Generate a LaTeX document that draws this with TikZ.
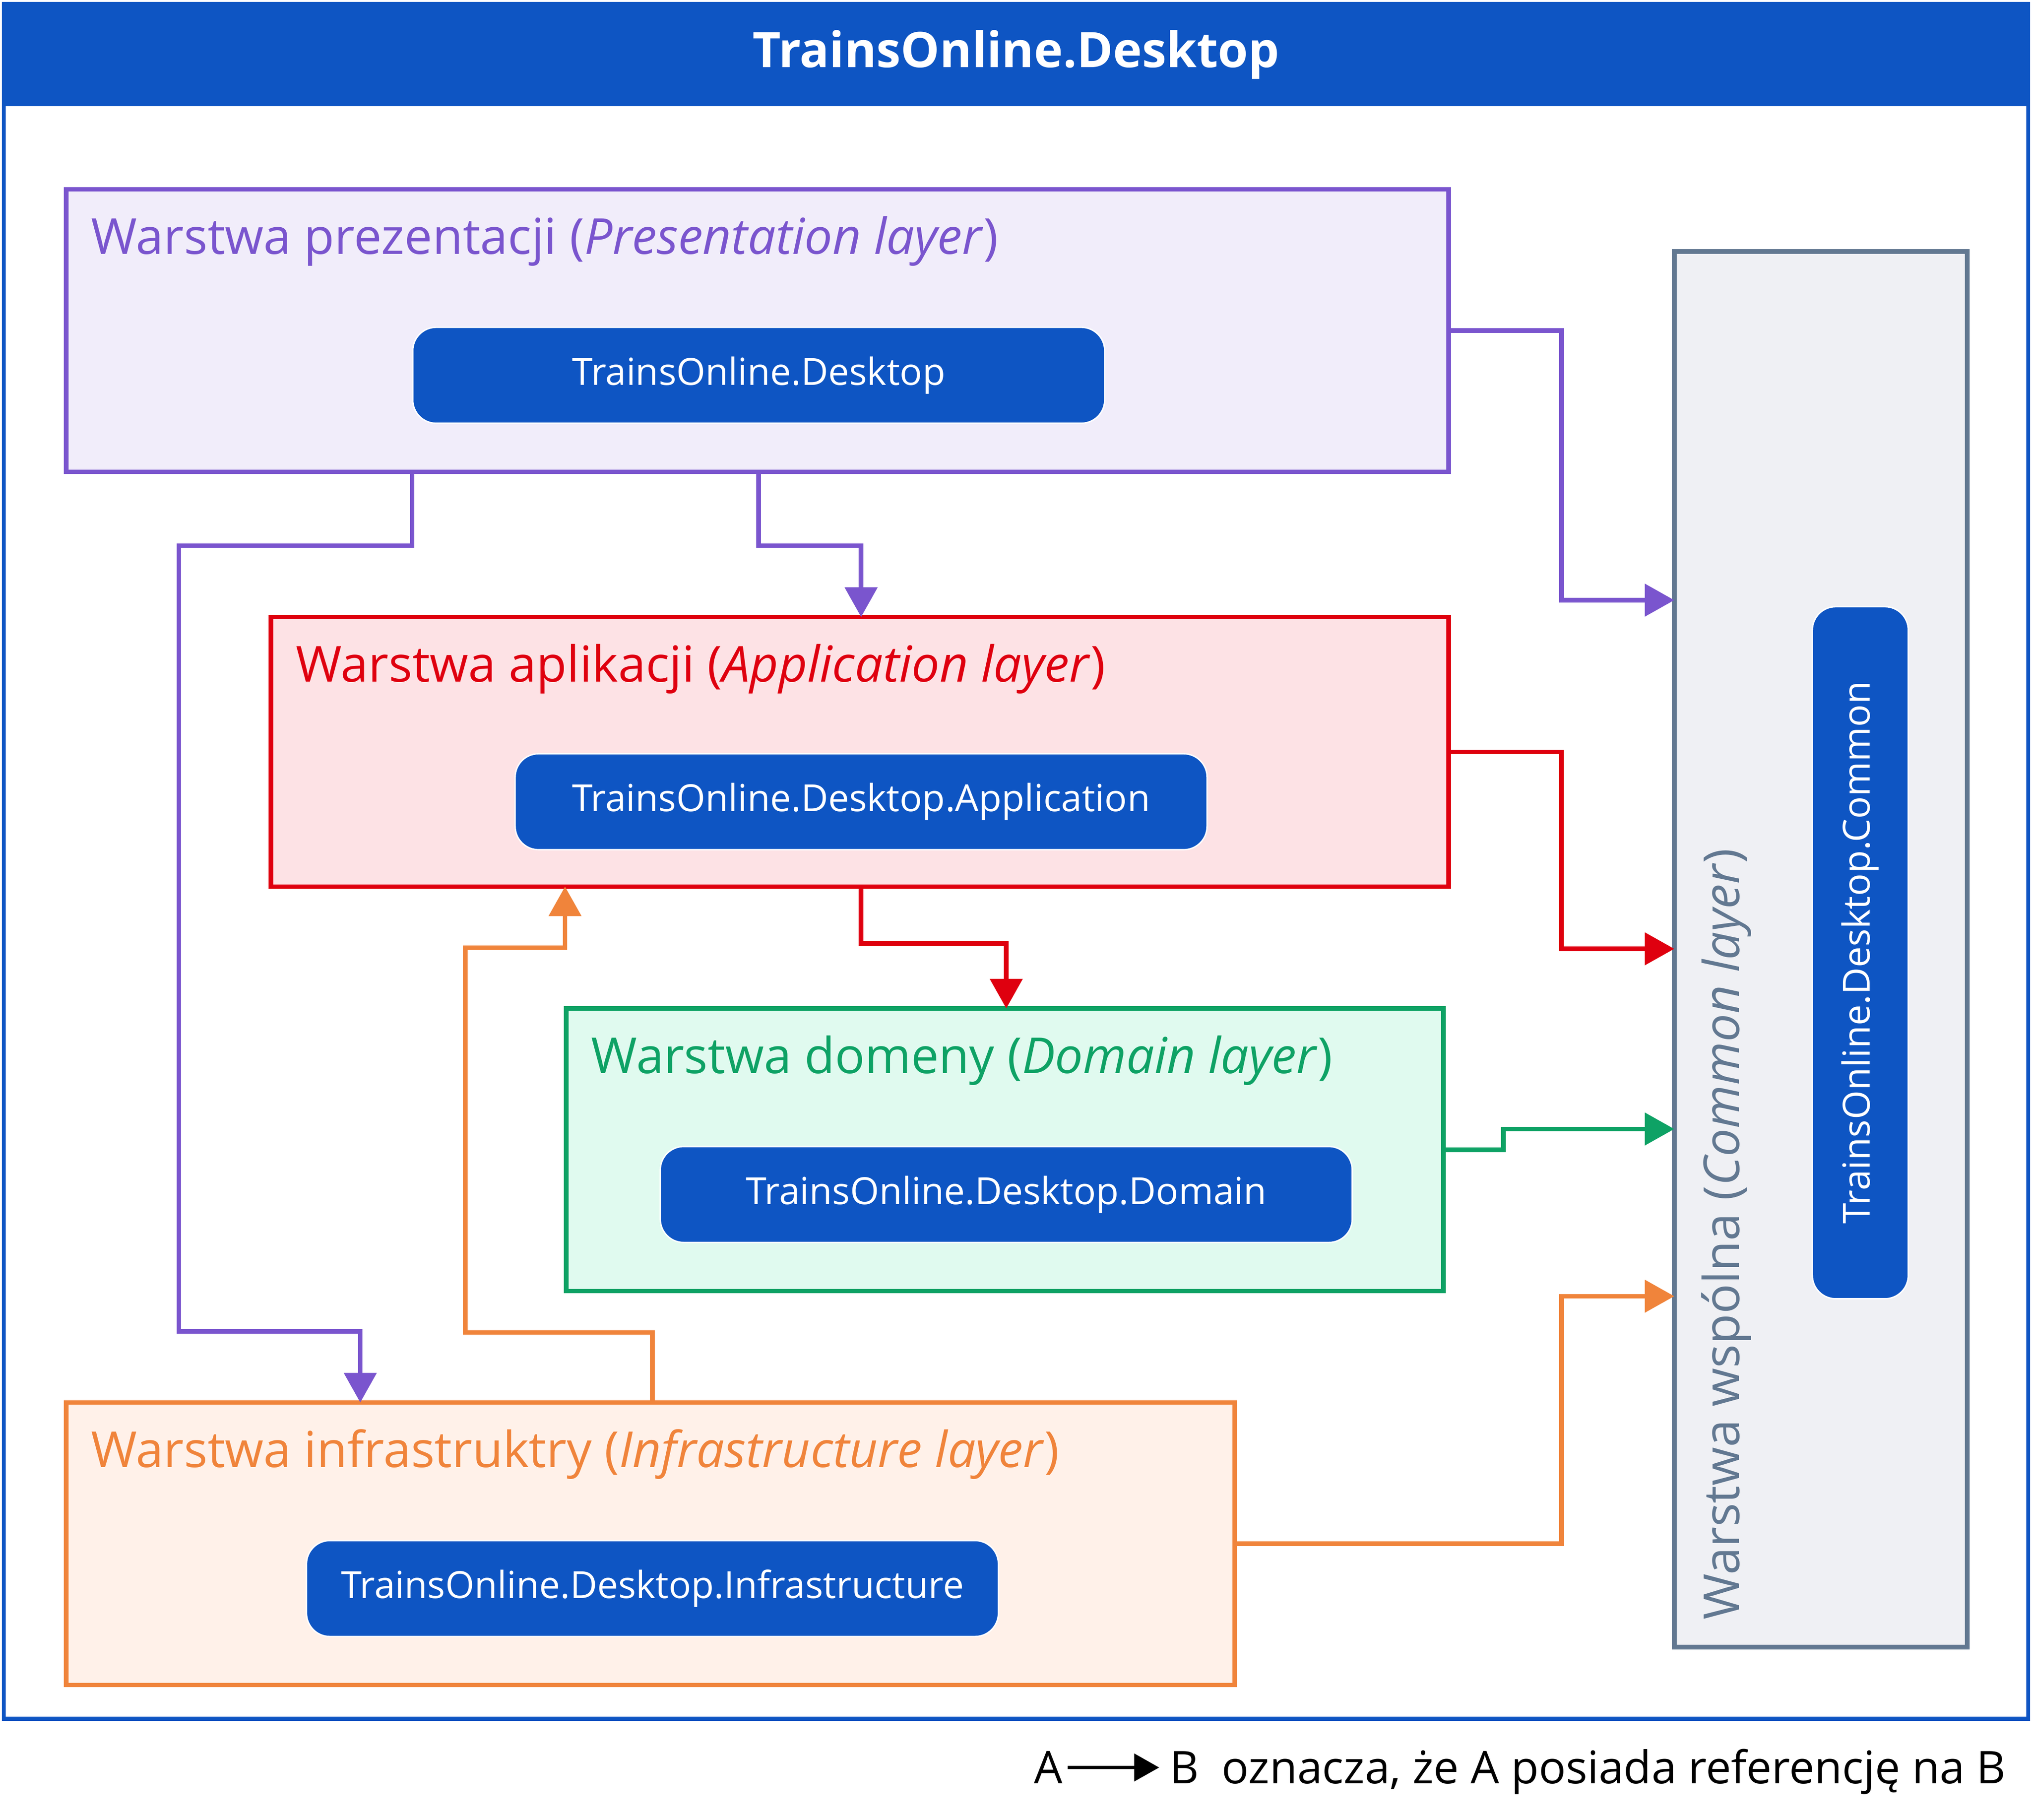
\documentclass[tikz,border=0pt]{standalone}
\usepackage{fontspec}
\setmainfont{Open Sans}
\usetikzlibrary{arrows.meta}
\definecolor{tblue}{HTML}{0E55C3}
\definecolor{ppurple}{HTML}{7A55CE}
\definecolor{ppurplebg}{HTML}{F1EDFA}
\definecolor{ared}{HTML}{DF000F}
\definecolor{aredbg}{HTML}{FDE2E5}
\definecolor{dgreen}{HTML}{0EA265}
\definecolor{dgreenbg}{HTML}{E0FAEF}
\definecolor{iorange}{HTML}{F0843B}
\definecolor{iorangebg}{HTML}{FFF1E9}
\definecolor{cslate}{HTML}{627891}
\definecolor{cslatebg}{HTML}{EFF0F4}

\begin{document}
\begin{tikzpicture}[x=0.02cm, y=-0.02cm,
  layer/.style={draw=#1, fill=#1bg, line width=2pt, anchor=north west, inner sep=0, outer sep=0},
  layertitle/.style={text=#1, anchor=base west, inner sep=0, font=\fontsize{21.8}{26}\selectfont},
  lib/.style={fill=tblue, draw=white, line width=0.6pt, rounded corners=0.36cm, text=white,
    font=\fontsize{16.4}{20}\selectfont, minimum width=10.68cm, minimum height=1.48cm, inner sep=0, anchor=north west},
  ref/.style={draw=#1, line width=2pt, -{Triangle[length=13pt,width=14pt]}}]
  \useasboundingbox (0,0) rectangle (1568,1404);
  \fill[white] (0,0) rectangle (1568,1404);
  \draw[tblue, line width=1.8pt] (3,3) rectangle (1565,1326);
  \fill[tblue] (3,3) rectangle (1565,82);
  \node[text=white, font=\bfseries\fontsize{21.5}{25}\selectfont] (title) at (784,42) {TrainsOnline.Desktop};

  \node[layer=ppurple, minimum width=21.34cm, minimum height=4.36cm] (pres) at (51,146) {};
  \node[layertitle=ppurple] (presTitle) at (70,196) {Warstwa prezentacji (\textit{Presentation layer})};
  \node[lib] (presLib) at (318,252) {TrainsOnline.Desktop};

  \node[layer=ared, minimum width=18.18cm, minimum height=4.16cm] (app) at (209,476) {};
  \node[layertitle=ared] (appTitle) at (228,526) {Warstwa aplikacji (\textit{Application layer})};
  \node[lib] (appLib) at (397,581) {TrainsOnline.Desktop.Application};

  \node[layer=dgreen, minimum width=13.54cm, minimum height=4.36cm] (dom) at (437,778) {};
  \node[layertitle=dgreen] (domTitle) at (456,828) {Warstwa domeny (\textit{Domain layer})};
  \node[lib] (domLib) at (509,884) {TrainsOnline.Desktop.Domain};

  \node[layer=iorange, minimum width=18.04cm, minimum height=4.36cm] (infra) at (51,1082) {};
  \node[layertitle=iorange] (infraTitle) at (70,1132) {Warstwa infrastruktry (\textit{Infrastructure layer})};
  \node[lib] (infraLib) at (236,1188) {TrainsOnline.Desktop.Infrastructure};

  \node[layer=cslate, minimum width=4.52cm, minimum height=21.54cm] (common) at (1292,194) {};
  \node[layertitle=cslate, rotate=90] (commonTitle) at (1342,1250) {Warstwa wspólna (\textit{Common layer})};
  \node[lib, anchor=center, rotate=90] (commonLib) at (1435.5,735) {TrainsOnline.Desktop.Common};

  \draw[ref=ppurple] (pres.east) -| (1205,463) -- (common.west |- 0,463);
  \draw[ref=ppurple] (pres.south -| presLib.west) -- ++(0,57) -| (138,1027) -| (infra.north -| 278,0);
  \draw[ref=ppurple] (pres.south -| presLib.south) -- ++(0,57) -| (app.north -| appLib.north);
  \draw[ref=ared] (app.east) -| (1205,732) -- (common.west |- 0,732);
  \draw[ref=ared] (app.south -| appLib.south) -- ++(0,44) -| (dom.north -| domLib.north);
  \draw[ref=dgreen] (dom.east) -| (1160,871) -- (common.west |- 0,871);
  \draw[ref=iorange] (infra.east) -| (1205,1000) -- (common.west |- 0,1000);
  \draw[ref=iorange] (infra.north -| infraLib.north) -- ++(0,-54) -| (359,731) -| (app.south -| 436,0);

  \node[anchor=base, inner sep=2pt, font=\fontsize{19.8}{24}\selectfont] (legA) at (809,1376) {A};
  \node[anchor=base, inner sep=4.5pt, font=\fontsize{19.8}{24}\selectfont] (legB) at (914,1376) {B};
  \node[anchor=base east, inner sep=0, font=\fontsize{19.8}{24}\selectfont] (legText) at (1548,1376) {oznacza, że A posiada referencję na B};
  \draw[line width=1.4pt, -{Triangle[length=11pt,width=12pt]}] (legA) -- (legB);
\end{tikzpicture}
\end{document}
